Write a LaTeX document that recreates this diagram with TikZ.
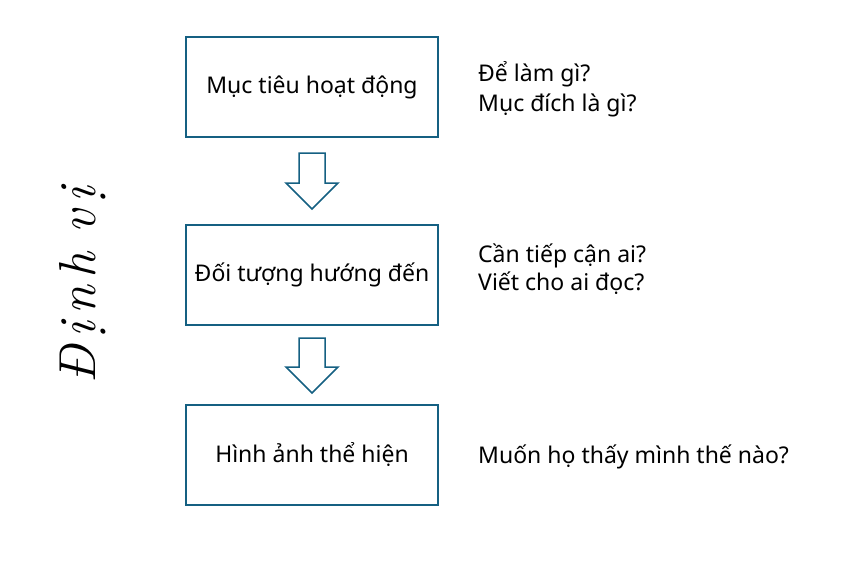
\documentclass[tikz,border=0pt]{standalone}
\usepackage{fontspec}
\setmainfont{Noto Sans}
\newfontfamily\titlefont{Latin Modern Roman}
\definecolor{boxblue}{HTML}{156082}
\begin{document}
\begin{tikzpicture}[x=1pt,y=-1pt,
  stepbox/.style={draw=boxblue,line width=1.6pt,minimum width=252pt,minimum height=100pt,inner sep=0pt,font=\fontsize{23}{27}\selectfont},
  sidetext/.style={anchor=base west,inner sep=0pt,font=\fontsize{23}{27}\selectfont,align=left},
  blockarrow/.style={draw=boxblue,line width=1.5pt,fill=white,line join=miter}]
\useasboundingbox (0,0) rectangle (858,583);
\node[stepbox] (b1) at (312,87) {Mục tiêu hoạt động};
\node[stepbox] (b2) at (312,275) {Đối tượng hướng đến};
\node[stepbox] (b3) at (312,455) {Hình ảnh thể hiện};
% block arrows
\coordinate (a1) at (312,153);
\draw[blockarrow] (a1) ++(-13,0) -- ++(0,30) -- ++(-13,0) -- ++(26,26) -- ++(26,-26) -- ++(-13,0) -- ++(0,-30) -- cycle;
\coordinate (a2) at (312,338);
\draw[blockarrow] (a2) ++(-13,0) -- ++(0,29) -- ++(-13,0) -- ++(26,26) -- ++(26,-26) -- ++(-13,0) -- ++(0,-29) -- cycle;
% side texts
\node[sidetext] (t1) at (478,82) {Để làm gì?};
\node[sidetext] (t2) at (478,111) {Mục đích là gì?};
\node[sidetext] (t3) at (478,262) {Cần tiếp cận ai?};
\node[sidetext] (t4) at (478,290) {Viết cho ai đọc?};
\node[sidetext] (t5) at (478,463) {Muốn họ thấy mình thế nào?};
% vertical title
\node[rotate=90,anchor=base,inner sep=0pt,font=\titlefont\itshape\fontsize{52}{60}\selectfont] (title) at (95,285) {Đ\kern7.5pt ị\kern7.5pt n\kern7.5pt h\kern19pt v\kern7.5pt ị};
\end{tikzpicture}
\end{document}
